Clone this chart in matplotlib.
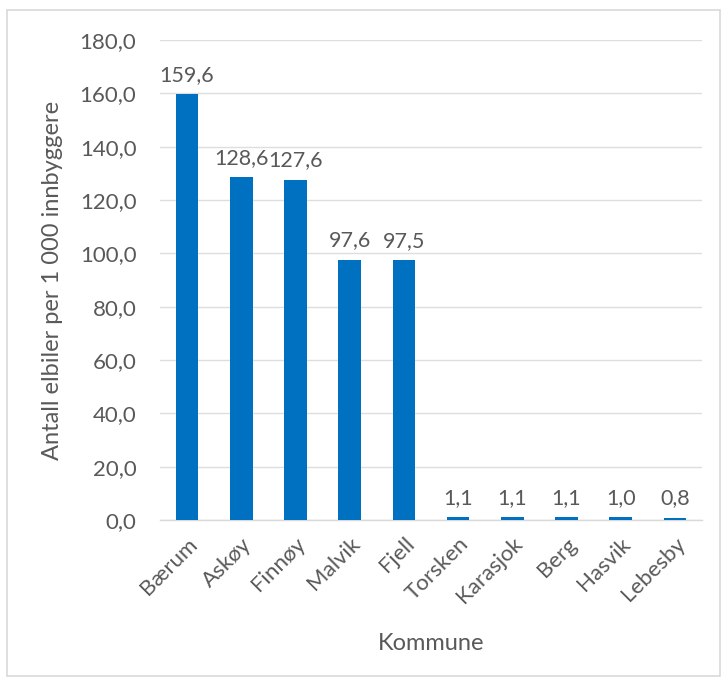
import matplotlib.pyplot as plt
from matplotlib.patches import Rectangle

kommuner = ["Bærum", "Askøy", "Finnøy", "Malvik", "Fjell",
            "Torsken", "Karasjok", "Berg", "Hasvik", "Lebesby"]
elbiler_per_1000 = [159.6, 128.6, 127.6, 97.6, 97.5, 1.1, 1.1, 1.1, 1.0, 0.8]
y_ticks = [0, 20, 40, 60, 80, 100, 120, 140, 160, 180]

def fmt(v):
    return f"{v:.1f}".replace(".", ",")

plt.rcParams['font.family'] = ['Lato', 'DejaVu Sans']
text_color = "#595959"
bar_color = "#0070C0"

fig = plt.figure(figsize=(7.28, 6.84), dpi=100)
ax = fig.add_axes([160 / 728, 1 - 520 / 684, (702 - 160) / 728, (520 - 40) / 684])

x = range(len(kommuner))
ax.bar(x, elbiler_per_1000, width=0.42, color=bar_color, zorder=3)
for xi, v in zip(x, elbiler_per_1000):
    ax.text(xi, v + 3.5, fmt(v), ha="center", va="bottom",
            fontsize=15.5, color=text_color)

ax.set_ylim(0, 180)
ax.set_xlim(-0.5, len(kommuner) - 0.5)
ax.set_yticks(y_ticks)
ax.set_yticklabels([fmt(t) for t in y_ticks], fontsize=16, color=text_color)
ax.set_xticks(list(x))
ax.set_xticklabels(kommuner, rotation=45, ha="right", rotation_mode="anchor",
                   fontsize=16, color=text_color)
ax.tick_params(axis="both", length=0)
ax.tick_params(axis="y", pad=17)
ax.tick_params(axis="x", pad=10)
ax.grid(axis="y", color="#DEDEDE", linewidth=1, zorder=0)
for side in ["top", "right", "left"]:
    ax.spines[side].set_visible(False)
ax.spines["bottom"].set_color("#D9D9D9")
ax.spines["bottom"].set_linewidth(1)

ax.set_ylabel("Antall elbiler per 1 000 innbyggere", fontsize=17,
              color=text_color, labelpad=12)
fig.text(431 / 728, 1 - 643 / 684, "Kommune", ha="center", va="center",
         fontsize=17, color=text_color)

fig.patches.append(Rectangle((7 / 728, 8 / 684), 713 / 728, 666 / 684,
                             transform=fig.transFigure, fill=False,
                             edgecolor="#D9D9D9", linewidth=1.2))

fig.savefig("out.png", dpi=100)
